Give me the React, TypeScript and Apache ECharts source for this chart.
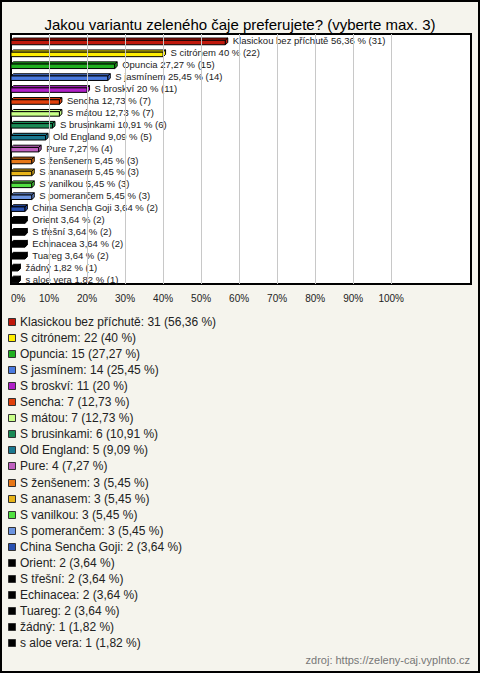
import React, { useEffect, useRef } from "react";
import * as echarts from "echarts";

const categories = [
  "Klasickou bez příchutě", "S citrónem", "Opuncia", "S jasmínem", "S broskví",
  "Sencha", "S mátou", "S brusinkami", "Old England", "Pure",
  "S ženšenem", "S ananasem", "S vanilkou", "S pomerančem", "China Sencha Goji",
  "Orient", "S třešní", "Echinacea", "Tuareg", "žádný", "s aloe vera",
];
const counts = [31, 22, 15, 14, 11, 7, 7, 6, 5, 4, 3, 3, 3, 3, 2, 2, 2, 2, 2, 1, 1];
const percents = [56.36, 40, 27.27, 25.45, 20, 12.73, 12.73, 10.91, 9.09, 7.27, 5.45, 5.45, 5.45, 5.45, 3.64, 3.64, 3.64, 3.64, 3.64, 1.82, 1.82];
const colors = [
  "#c0180c", "#ffee00", "#20b020", "#4a7ae0", "#b020c8",
  "#e0400c", "#c8ff88", "#1a8a55", "#1a7890", "#c060c0",
  "#e87818", "#e8b418", "#50e040", "#6c94e0", "#2850b0",
  "#000000", "#000000", "#000000", "#000000", "#000000", "#000000",
];
const gridTicks = [10, 20, 30, 40, 50, 60, 70, 80, 90, 100];
const title = "Jakou variantu zeleného čaje preferujete? (vyberte max. 3)";
const source = "zdroj: https://zeleny-caj.vyplnto.cz";

const FONT = "'Liberation Sans', Arial, sans-serif";
const fmt = (v: number) => String(v).replace(".", ",");

export default function App() {
  const ref = useRef<HTMLDivElement>(null);
  useEffect(() => {
    const chart = echarts.init(ref.current!, null, { renderer: "svg" });
    const legendEls: any[] = [];
    categories.forEach((name, i) => {
      const y = 322 + i * 16.05;
      legendEls.push({
        type: "rect",
        shape: { x: 8.5, y: Math.round(y - 4) + 0.5, width: 7, height: 7 },
        style: { fill: colors[i], stroke: "#333", lineWidth: 1 },
      });
      legendEls.push({
        type: "text",
        x: 20,
        y: y,
        style: {
          text: `${name}: ${counts[i]} (${fmt(percents[i])} %)`,
          fontSize: 12,
          fontFamily: FONT,
          fill: "#222",
          verticalAlign: "middle",
          align: "left",
        },
      });
    });

    chart.setOption({
      animation: false,
      backgroundColor: "#f5f4ed",
      title: {
        text: title,
        left: "center",
        top: 12,
        textStyle: { fontSize: 15, fontWeight: "normal", color: "#000", fontFamily: FONT },
      },
      grid: {
        left: 11,
        top: 34,
        width: 460,
        height: 250,
        show: true,
        backgroundColor: "#ffffff",
        borderColor: "#000",
        borderWidth: 2,
      },
      xAxis: {
        type: "value",
        min: 0,
        max: 121,
        interval: 10,
        axisLine: { show: false },
        axisTick: { show: false },
        splitLine: { show: false },
        axisLabel: {
          margin: 9,
          fontSize: 10,
          color: "#222",
          fontFamily: FONT,
          alignMinLabel: "left",
          showMaxLabel: false,
          formatter: (v: number) => (v <= 100 ? `${v}%` : ""),
        },
      },
      yAxis: {
        type: "category",
        inverse: true,
        data: categories,
        axisLine: { show: false },
        axisTick: { show: false },
        axisLabel: { show: false },
        splitLine: { show: false },
      },
      graphic: [
        {
          type: "rect",
          shape: { x: 1, y: 1, width: 478, height: 671 },
          style: { fill: "none", stroke: "#000", lineWidth: 2 },
          silent: true,
        },
        ...legendEls,
        {
          type: "text",
          right: 10,
          top: 654,
          style: { text: source, fontSize: 11, fontFamily: FONT, fill: "#777" },
        },
      ],
      series: [
        {
          type: "line",
          data: [],
          z: 1,
          silent: true,
          markLine: {
            silent: true,
            symbol: ["none", "none"],
            label: { show: false },
            lineStyle: { color: "#c8c8c8", width: 1, type: "solid" },
            data: gridTicks.map((t) => ({ xAxis: t })),
          },
        },
        {
          type: "custom",
          z: 3,
          data: percents.map((p, i) => [p, i]),
          renderItem: (params: any, api: any) => {
            const v = api.value(0);
            const idx = api.value(1);
            const s = api.coord([0, idx]);
            const e = api.coord([v, idx]);
            const c = s[1];
            const x0 = s[0];
            const x1 = e[0];
            const yT = c + 0.3;
            const yB = c + 4.8;
            const dx = 2.5;
            const dy = -2.2;
            const col = colors[idx];
            const st = { fill: col, stroke: "#000", lineWidth: 1 };
            return {
              type: "group",
              children: [
                { type: "polygon", shape: { points: [[x0, yT], [x0 + dx, yT + dy], [x1 + dx, yT + dy], [x1, yT]] }, style: st },
                { type: "polygon", shape: { points: [[x1, yT], [x1 + dx, yT + dy], [x1 + dx, yB + dy], [x1, yB]] }, style: st },
                { type: "rect", shape: { x: x0, y: yT, width: x1 - x0, height: yB - yT }, style: st },
                {
                  type: "text",
                  x: x1 + dx + 5,
                  y: c + 1,
                  style: {
                    text: `${categories[idx]} ${fmt(percents[idx])} % (${counts[idx]})`,
                    fontSize: 9.5,
                    fontFamily: FONT,
                    fill: "#222",
                    verticalAlign: "middle",
                    align: "left",
                  },
                },
              ],
            };
          },
        },
      ],
    });
    return () => chart.dispose();
  }, []);
  return (
    <div
      ref={ref}
      style={{ position: "fixed", left: 0, top: 0, width: 480, height: 673 }}
    />
  );
}
